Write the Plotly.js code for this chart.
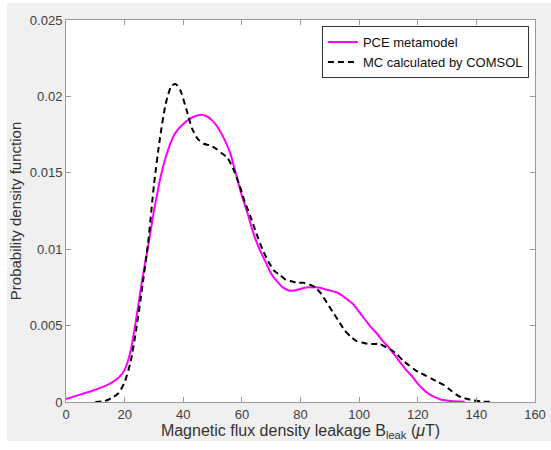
<!DOCTYPE html>
<html>
<head>
<meta charset="utf-8">
<script src="https://cdn.plot.ly/plotly-3.0.1.min.js"></script>
<style>
html,body{margin:0;padding:0;background:#ffffff;}
#chart{position:absolute;left:7px;top:3px;width:544px;height:438px;}
</style>
</head>
<body>
<div id="chart"></div>
<script>
// PCE metamodel curve
const pceX = [0, 5, 10, 15, 18, 20, 22, 24, 26, 28, 30, 31, 32, 33, 34, 35, 36, 37, 38, 40, 42, 44, 46, 48, 50, 52, 54, 56, 58, 60, 62, 64, 66, 68, 70, 72, 74, 76, 78, 80, 82, 84, 86, 88, 90, 92, 94, 96, 98, 100, 102, 104, 106, 108, 110, 112, 114, 116, 118, 120, 122, 124, 126, 128, 130, 132, 134, 136];
const pceY = [0.0002, 0.0005, 0.0008, 0.0012, 0.0016, 0.0021, 0.0033, 0.0055, 0.0080, 0.0102, 0.0125, 0.0135, 0.0145, 0.0153, 0.0160, 0.0166, 0.0171, 0.0175, 0.0178, 0.0182, 0.0185, 0.0187, 0.0188, 0.0187, 0.0184, 0.0179, 0.0172, 0.0163, 0.0149, 0.0135, 0.0123, 0.0110, 0.0100, 0.0092, 0.0084, 0.0079, 0.0075, 0.0073, 0.0073, 0.0074, 0.0075, 0.0075, 0.0075, 0.0074, 0.0073, 0.0072, 0.0070, 0.0067, 0.0064, 0.0059, 0.0054, 0.0049, 0.0045, 0.0040, 0.0036, 0.0031, 0.0026, 0.0021, 0.0017, 0.0012, 0.0008, 0.0005, 0.0003, 0.00015, 0.0001, 0.00005, 0.00003, 0.00002];

// Monte Carlo (COMSOL) curve
const mcX = [10, 13, 16, 18, 20, 22, 24, 26, 28, 30, 32, 34, 36, 37.5, 39, 41, 43, 45, 47, 49, 51, 53, 55, 57, 59, 61, 63, 65, 67, 69, 71, 73, 75, 77, 79, 81, 83, 85, 87, 89, 91, 93, 95, 97, 99, 101, 103, 105, 107, 109, 111, 113, 115, 117, 119, 121, 123, 125, 127, 129, 131, 133, 135, 137, 139, 142, 146];
const mcY = [0, 0.00005, 0.0003, 0.0006, 0.0013, 0.0026, 0.0048, 0.0075, 0.0104, 0.0142, 0.0172, 0.0195, 0.0207, 0.0208, 0.0204, 0.0192, 0.0179, 0.0172, 0.0169, 0.0168, 0.0166, 0.0163, 0.0160, 0.0153, 0.0143, 0.0131, 0.0121, 0.0110, 0.0100, 0.0092, 0.0086, 0.0083, 0.0080, 0.0079, 0.0078, 0.0078, 0.0077, 0.0075, 0.0071, 0.0065, 0.0059, 0.0053, 0.0047, 0.0043, 0.0040, 0.0039, 0.0038, 0.0038, 0.0038, 0.0036, 0.0034, 0.0031, 0.0027, 0.0024, 0.0021, 0.0019, 0.0017, 0.0015, 0.0013, 0.0011, 0.0008, 0.0005, 0.0003, 0.0002, 0.0001, 0.00003, 0];

const xTicks = [0, 20, 40, 60, 80, 100, 120, 140, 160];
const yTicks = [0, 0.005, 0.01, 0.015, 0.02, 0.025];
const yTickText = ['0', '0.005', '0.01', '0.015', '0.02', '0.025'];
const seriesNames = ['PCE metamodel', 'MC calculated by COMSOL'];

const FONT = 'Liberation Sans, Arial, sans-serif';
const AX = '#999999';

const traces = [
  {x: pceX, y: pceY, name: seriesNames[0], type: 'scatter', mode: 'lines',
   line: {color: '#ff00ff', width: 2, shape: 'spline', smoothing: 0.6}},
  {x: mcX, y: mcY, name: seriesNames[1], type: 'scatter', mode: 'lines',
   line: {color: '#000000', width: 2, dash: '6px,4px', shape: 'spline', smoothing: 0.6}}
];

const layout = {
  width: 544, height: 438,
  paper_bgcolor: '#f0f0f0', plot_bgcolor: '#ffffff',
  margin: {l: 59, r: 16, t: 17, b: 39},
  font: {family: FONT, size: 13, color: '#333333'},
  showlegend: true,
  legend: {x: 0.987, y: 0.984, xanchor: 'right', yanchor: 'top',
           bgcolor: '#ffffff', bordercolor: '#333333', borderwidth: 1,
           font: {family: FONT, size: 13, color: '#111111'},
           itemwidth: 30, tracegroupgap: 0},
  xaxis: {range: [0, 160], tickvals: xTicks, ticktext: xTicks.map(String),
          ticks: 'inside', ticklen: 5, tickcolor: AX, showline: true, linecolor: AX,
          linewidth: 1, mirror: 'ticks', showgrid: false, zeroline: false,
          tickfont: {family: FONT, size: 13, color: '#404040'},
          title: {text: 'Magnetic flux density leakage B<sub>leak</sub> (<i>μ</i>T)',
                  font: {family: FONT, size: 16, color: '#333333'}, standoff: 3}},
  yaxis: {range: [0, 0.025], tickvals: yTicks, ticktext: yTickText,
          ticks: 'inside', ticklen: 5, tickcolor: AX, showline: true, linecolor: AX,
          linewidth: 1, mirror: 'ticks', showgrid: false, zeroline: false,
          tickfont: {family: FONT, size: 13, color: '#404040'},
          title: {text: 'Probability density function',
                  font: {family: FONT, size: 15, color: '#333333'}, standoff: 6}}
};

Plotly.newPlot('chart', traces, layout, {displayModeBar: false, staticPlot: true});
</script>
</body>
</html>
